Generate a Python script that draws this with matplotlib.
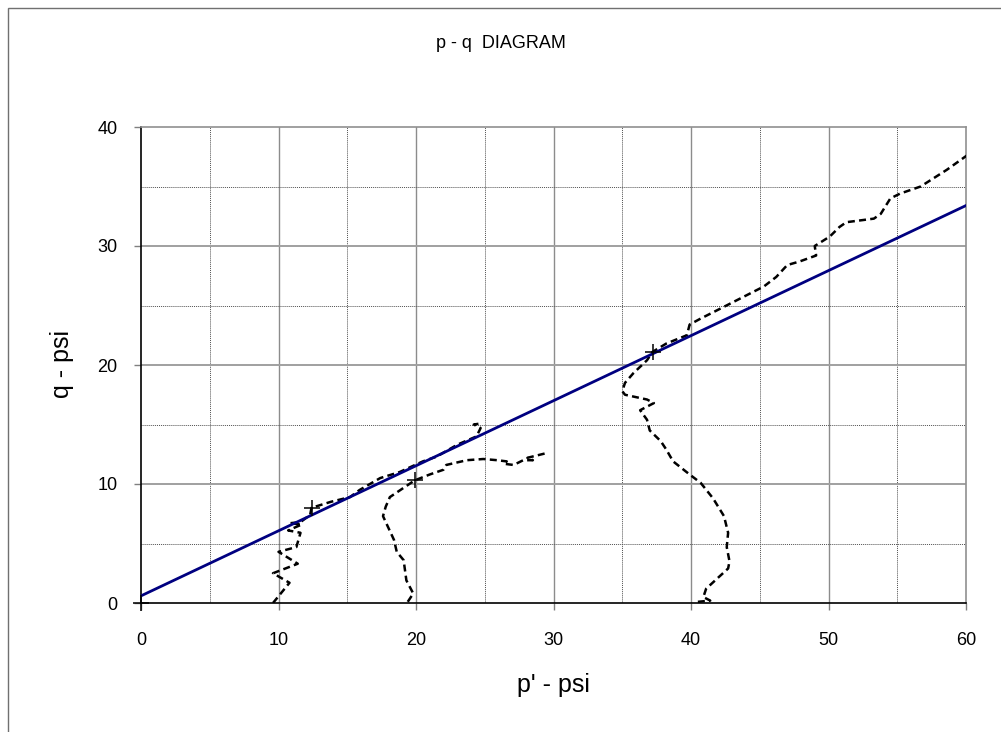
import matplotlib.pyplot as plt
from matplotlib.patches import Rectangle

plt.rcParams['font.family'] = ['Liberation Sans', 'DejaVu Sans']

# failure line
line_p = [0, 60]
line_q = [0.6, 33.4]

# peak points (+)
peak_p = [0, 12.4, 19.9, 37.2]
peak_q = [0, 8.0, 10.3, 21.1]

# stress path 1 (starts near p'=10)
path1_p = [9.6, 10.8, 9.6, 11.4, 10.0, 11.3, 11.6, 10.7, 11.7, 10.8, 11.6, 12.3, 12.4,
           13.8, 15.2, 15.9, 17.4, 18.8, 20.5, 21.5, 23.0, 24.4, 24.7, 24.2, 24.8]
path1_q = [0.0, 1.7, 2.5, 3.3, 4.3, 4.7, 5.9, 6.1, 6.6, 6.7, 6.8, 7.4, 8.0,
           8.5, 8.9, 9.5, 10.5, 11.0, 11.9, 12.3, 13.3, 14.0, 14.7, 15.0, 15.1]

# stress path 2 (starts near p'=20)
path2_p = [19.4, 19.8, 19.3, 19.1, 18.6, 18.4, 17.6, 17.8, 18.1, 19.0, 19.9,
           21.0, 22.0, 22.2, 23.7, 24.9, 25.9, 26.6, 26.4, 27.1, 27.8, 28.5, 28.1, 29.5]
path2_q = [0.1, 0.8, 1.9, 3.6, 4.3, 5.3, 7.3, 8.1, 8.9, 9.6, 10.3,
           10.8, 11.2, 11.6, 12.0, 12.1, 12.0, 11.9, 11.7, 11.6, 12.0, 12.0, 12.2, 12.6]

# stress path 3 (starts near p'=41)
path3_p = [40.5, 41.4, 40.9, 41.1, 42.7, 42.8, 42.6, 42.7, 42.4, 41.6, 40.7, 39.9,
           38.7, 38.2, 37.8, 37.0, 36.8, 36.3, 37.3, 36.8, 35.2, 35.0, 35.2, 35.8,
           36.8, 37.2, 38.2, 39.7, 39.9, 40.7, 41.9, 43.6, 45.3, 46.2, 47.0, 47.9,
           49.1, 49.0, 50.1, 50.8, 51.3, 53.3, 53.8, 54.5, 55.2, 56.7, 58.6, 60.3]
path3_q = [0.1, 0.2, 0.5, 1.2, 2.9, 3.5, 4.7, 5.9, 7.3, 8.8, 10.1, 10.8,
           11.9, 12.9, 13.6, 14.5, 15.4, 16.2, 16.8, 17.1, 17.5, 17.8, 18.5, 19.3,
           20.4, 21.1, 21.8, 22.5, 23.4, 23.9, 24.6, 25.6, 26.6, 27.4, 28.4, 28.7,
           29.2, 30.0, 30.8, 31.6, 32.0, 32.3, 32.7, 34.0, 34.4, 35.0, 36.4, 37.8]

fig = plt.figure(figsize=(10.01, 7.32), dpi=100)
ax = fig.add_axes([141 / 1001, 129 / 732, 825 / 1001, 476 / 732])

# grid
for v in range(5, 60, 10):
    ax.axvline(v, color='#505050', lw=0.7, ls=(0, (1, 1)), zorder=1)
for v in range(10, 60, 10):
    ax.axvline(v, color='#8c8c8c', lw=1.0, zorder=1)
for v in range(5, 40, 10):
    ax.axhline(v, color='#505050', lw=0.7, ls=(0, (1, 1)), zorder=1)
for v in range(10, 40, 10):
    ax.axhline(v, color='#a0a0a0', lw=1.4, zorder=1)

dash = (0, (2.8, 1.7))
for pp, qq in [(path1_p, path1_q), (path2_p, path2_q), (path3_p, path3_q)]:
    ax.plot(pp, qq, color='black', lw=1.8, ls=dash, zorder=3)

ax.plot(line_p, line_q, color='#000080', lw=2.0, zorder=4)
ax.plot(peak_p, peak_q, ls='none', marker='+', ms=12, mew=1.1, color='black',
        zorder=5, clip_on=False)

ax.set_xlim(0, 60)
ax.set_ylim(0, 40)
ax.set_xticks(range(0, 61, 10))
ax.set_yticks(range(0, 41, 10))
ax.tick_params(axis='both', direction='out', length=5, width=1, color='#808080',
               labelsize=13)
ax.tick_params(axis='x', pad=16)
ax.tick_params(axis='y', pad=12)

for s in ['top', 'right']:
    ax.spines[s].set_color('#909090')
    ax.spines[s].set_linewidth(1.2)
for s in ['left', 'bottom']:
    ax.spines[s].set_color('black')
    ax.spines[s].set_linewidth(1.2)

fig.text(0.5, 1 - 44 / 732, 'p - q  DIAGRAM', ha='center', va='center', fontsize=13)
fig.text(553 / 1001, 1 - 685 / 732, "p' - psi", ha='center', va='center', fontsize=18)
fig.text(62 / 1001, 1 - 364 / 732, 'q - psi', ha='center', va='center', fontsize=18,
         rotation=90)

fig.add_artist(Rectangle((8 / 1001, -0.1), 1.2, 0.1 + 724 / 732, transform=fig.transFigure,
                         fill=False, edgecolor='#707070', lw=1.0))

fig.savefig('out.png', dpi=100)
